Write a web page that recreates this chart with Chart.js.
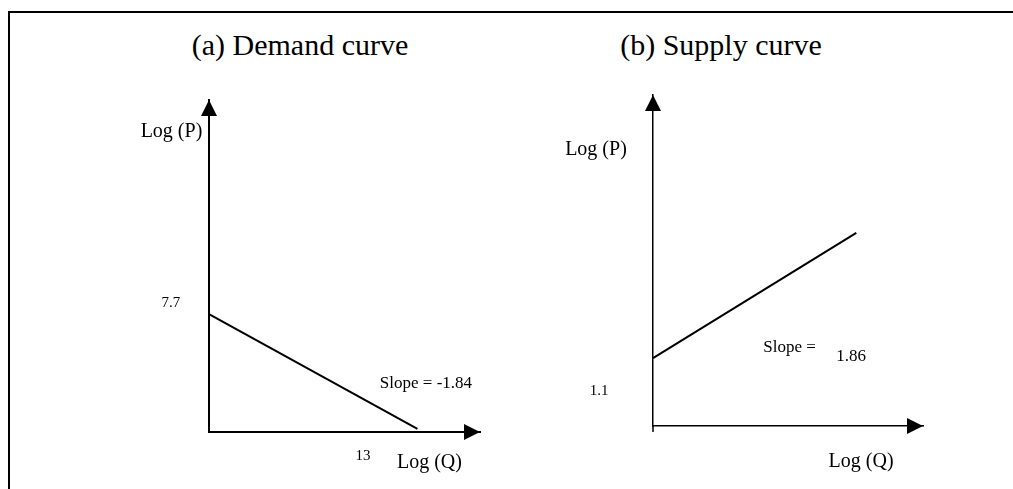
<!DOCTYPE html>
<html>
<head>
<meta charset="utf-8">
<script src="https://cdn.jsdelivr.net/npm/chart.js@4/dist/chart.umd.min.js"></script>
<style>
    html, body { margin: 0; padding: 0; background: #fff; }
    #page { position: relative; width: 1013px; height: 489px; overflow: hidden; }
    #frame {
        position: absolute; left: 8px; top: 11px; width: 1020px; height: 500px;
        border-top: 2px solid #000; border-left: 2px solid #000;
    }
    .title {
        position: absolute; top: 28px; font-family: "Liberation Serif", serif;
        font-size: 30px; color: #000; white-space: nowrap; transform: translateX(-50%);
    }
    canvas { position: absolute; top: 0; }
</style>
</head>
<body>
<div id="page">
    <div id="frame"></div>
    <div class="title" style="left:300px">(a) Demand curve</div>
    <div class="title" style="left:721px">(b) Supply curve</div>
    <canvas id="demandChart" width="601" height="489" style="left:0"></canvas>
    <canvas id="supplyChart" width="507" height="489" style="left:506px"></canvas>
</div>
<script>
// 需要曲線のデータ (log Q, log P)
const demandLogQ = [0, 13];
const demandLogP = [7.7, 0.2];

// 供給曲線のデータ
const supplyLogQ = [0, 12.8];
const supplyLogP = [4.3, 12.25];

// 軸ラベルと注記
const axisLabelP = 'Log (P)';
const axisLabelQ = 'Log (Q)';
const demandIntercept = '7.7';
const demandQEnd = '13';
const demandSlopeText = 'Slope = -1.84';
const supplyIntercept = '1.1';
const supplySlopeText = 'Slope =';
const supplySlopeValue = '1.86';

const FONT = '"Liberation Serif", serif';

// 軸の先端に矢印を描く
const arrowPlugin = {
    id: 'arrows',
    afterDraw(chart, args, opts) {
        const { ctx, chartArea: a } = chart;
        ctx.save();
        ctx.fillStyle = '#000';
        ctx.strokeStyle = '#000';
        // 縦軸の矢印
        ctx.beginPath();
        ctx.moveTo(a.left, a.top);
        ctx.lineTo(a.left - opts.half, a.top + opts.len);
        ctx.lineTo(a.left + opts.half, a.top + opts.len);
        ctx.closePath();
        ctx.fill();
        // 横軸の矢印
        ctx.beginPath();
        ctx.moveTo(a.right, a.bottom);
        ctx.lineTo(a.right - opts.len, a.bottom - opts.half);
        ctx.lineTo(a.right - opts.len, a.bottom + opts.half);
        ctx.closePath();
        ctx.fill();
        // 原点の下に少しはみ出す縦線
        if (opts.stub) {
            ctx.lineWidth = opts.stubWidth;
            ctx.beginPath();
            ctx.moveTo(a.left, a.bottom);
            ctx.lineTo(a.left, a.bottom + opts.stub);
            ctx.stroke();
        }
        ctx.restore();
    }
};

// テキスト注記をスケール経由で配置
const notePlugin = {
    id: 'notes',
    afterDraw(chart, args, opts) {
        const { ctx, scales } = chart;
        ctx.save();
        ctx.fillStyle = '#000';
        ctx.textAlign = 'center';
        ctx.textBaseline = 'middle';
        opts.items.forEach(n => {
            ctx.font = `${n.size}px ${FONT}`;
            ctx.fillText(n.text, scales.x.getPixelForValue(n.x), scales.y.getPixelForValue(n.y));
        });
        ctx.restore();
    }
};

// 軸の共通設定
function axis(max, width) {
    return {
        type: 'linear',
        min: 0,
        max: max,
        grid: { display: false, drawTicks: false },
        ticks: { display: false },
        border: { display: true, color: '#000', width: width }
    };
}

// グラフを作成
function makeChart(id, xs, ys, cfg) {
    const ctx = document.getElementById(id).getContext('2d');
    return new Chart(ctx, {
        type: 'scatter',
        data: {
            datasets: [{
                data: xs.map((x, i) => ({ x: x, y: ys[i] })),
                showLine: true,
                borderColor: '#000',
                borderWidth: 2,
                pointRadius: 0,
                clip: false
            }]
        },
        options: {
            responsive: false,
            animation: false,
            devicePixelRatio: 1,
            layout: { padding: cfg.padding },
            scales: {
                x: axis(cfg.xMax, cfg.axisWidth),
                y: axis(cfg.yMax, cfg.axisWidth)
            },
            plugins: {
                legend: { display: false },
                tooltip: { enabled: false },
                arrows: cfg.arrows,
                notes: { items: cfg.notes }
            }
        },
        plugins: [arrowPlugin, notePlugin]
    });
}

makeChart('demandChart', demandLogQ, demandLogP, {
    padding: { left: 209, right: 121, top: 100, bottom: 57 },
    xMax: 16.9,
    yMax: 21.7,
    axisWidth: 2,
    arrows: { half: 8, len: 16 },
    notes: [
        { text: axisLabelP, x: -2.34, y: 19.6, size: 20 },
        { text: demandIntercept, x: -2.37, y: 8.43, size: 15 },
        { text: demandSlopeText, x: 13.53, y: 3.14, size: 17 },
        { text: demandQEnd, x: 9.6, y: -1.57, size: 15 },
        { text: axisLabelQ, x: 13.75, y: -2.03, size: 20 }
    ]
});

makeChart('supplyChart', supplyLogQ, supplyLogP, {
    padding: { left: 147, right: 90, top: 95, bottom: 63 },
    xMax: 17,
    yMax: 21,
    axisWidth: 1.5,
    arrows: { half: 8, len: 16, stub: 6, stubWidth: 1.5 },
    notes: [
        { text: axisLabelP, x: -3.59, y: 17.51, size: 20 },
        { text: supplyIntercept, x: -3.4, y: 2.22, size: 15 },
        { text: supplySlopeText, x: 8.6, y: 4.95, size: 17 },
        { text: supplySlopeValue, x: 12.47, y: 4.38, size: 17 },
        { text: axisLabelQ, x: 13.1, y: -2.28, size: 20 }
    ]
});
</script>
</body>
</html>
